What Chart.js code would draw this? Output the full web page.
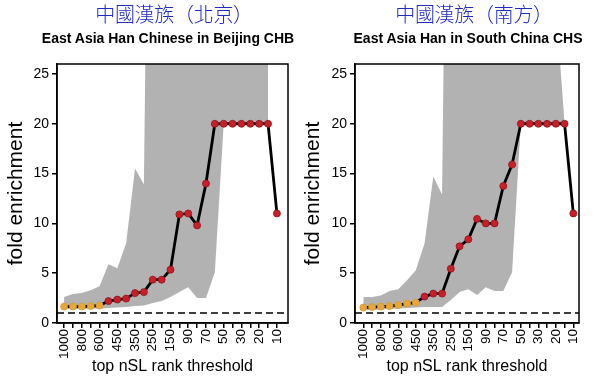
<!DOCTYPE html>
<html><head><meta charset="utf-8">
<script src="https://cdn.jsdelivr.net/npm/chart.js@4.4.1/dist/chart.umd.min.js"></script>
<style>
html,body{margin:0;padding:0;background:#fff;}
#wrap{position:relative;width:600px;height:383px;overflow:hidden;background:#fff;}
.cv{position:absolute;top:0;width:300px;height:383px;}
.t1{position:absolute;top:4px;font-family:"Noto Sans CJK TC","Noto Sans CJK SC",sans-serif;font-weight:300;font-size:20px;line-height:20px;color:#1f2bbf;letter-spacing:-0.3px;white-space:nowrap;transform:translateX(-50%);}
.t2{position:absolute;top:31px;font-family:"Liberation Sans",Arial,sans-serif;font-weight:bold;font-size:14px;line-height:14px;color:#000;white-space:nowrap;transform:translateX(-50%);}
</style></head><body>
<div id="wrap">
  <div class="cv" style="left:0"><canvas id="c1" width="300" height="383"></canvas></div>
  <div class="cv" style="left:300px"><canvas id="c2" width="300" height="383"></canvas></div>
  <div class="t1" style="left:174px">中國漢族（北京）</div>
  <div class="t2" style="left:168px">East Asia Han Chinese in Beijing CHB</div>
  <div class="t1" style="left:474px">中國漢族（南方）</div>
  <div class="t2" style="left:468px">East Asia Han in South China CHS</div>
</div>
<script>
// ---- data ----
const thresholds = ['1000','900','800','700','600','500','450','400','350','300','250','200','150','100','90','80','70','60','50','40','30','25','20','15','10'];
const yTicks = [0, 5, 10, 15, 20, 25];
const nullLevel = 1;

const chbFold  = [1.65,1.65,1.65,1.7,1.75, 2.2,2.35,2.45,3.0,3.1, 4.35,4.35,5.35,10.9,11.0, 9.8,14.0,20,20,20, 20,20,20,20,11];
const chbUpper = [2.6,2.9,3.0,3.3,3.7, 5.9,5.5,8.0,15.5,13.9, 90,90,90,90,90, 90,90,90,90,90, 90,90,90,90,null];
const chbLower = [1.4,1.4,1.4,1.45,1.45, 1.5,1.55,1.6,1.7,1.75, 2.0,2.2,2.6,3.1,3.6, 2.5,2.5,5.1,20,20, 20,20,20,20,null];
const chbOrangeCount = 5;

const chsFold  = [1.55,1.6,1.65,1.7,1.8, 1.95,2.05,2.65,2.95,2.95, 5.45,7.7,8.4,10.45,10.0, 10.0,13.75,15.9,20,20, 20,20,20,20,11];
const chsUpper = [2.6,2.6,2.75,3.2,3.4, 4.3,5.3,8.0,14.7,12.9, 90,90,90,90,90, 90,90,90,90,90, 90,90,32,20,null];
const chsLower = [1.3,1.3,1.35,1.4,1.45, 1.5,1.55,1.6,1.6,1.6, 2.3,3.1,3.4,2.8,3.6, 3.2,3.2,5.1,20,20, 20,20,20,20,null];
const chsOrangeCount = 7;

// ---- styling ----
const FONT = '"Liberation Sans", Arial, sans-serif';
const ORANGE = '#e8a838';
const RED = '#c8202a';
const GRAY = '#b2b2b2';

const toPts = arr => arr.map((v, i) => ({x: i, y: v}));

const framePlugin = {
  id: 'frame',
  beforeDatasetsDraw(chart) {
    const {ctx, chartArea: a, scales} = chart;
    const y = scales.y.getPixelForValue(nullLevel);
    ctx.save();
    ctx.strokeStyle = '#000';
    ctx.lineWidth = 1.5;
    ctx.setLineDash([7, 4]);
    ctx.beginPath();
    ctx.moveTo(a.left, y);
    ctx.lineTo(a.right, y);
    ctx.stroke();
    ctx.restore();
  },
  afterDatasetsDraw(chart) {
    const {ctx, chartArea: a} = chart;
    ctx.save();
    ctx.strokeStyle = '#000';
    ctx.lineWidth = 1.5;
    ctx.strokeRect(a.left, a.top, a.right - a.left, a.bottom - a.top);
    ctx.restore();
  }
};

function makeChart(id, fold, upper, lower, orangeCount, lay) {
  new Chart(document.getElementById(id), {
    type: 'line',
    data: {
      datasets: [
        {
          data: toPts(fold),
          borderColor: '#000',
          borderWidth: 2.8,
          tension: 0,
          pointRadius: 3.5,
          pointBorderWidth: 0.8,
          pointBackgroundColor: fold.map((_, i) => i < orangeCount ? ORANGE : RED),
          pointBorderColor: fold.map((_, i) => i < orangeCount ? '#d69a30' : '#8e1418'),
          fill: false,
          order: 0
        },
        {
          data: toPts(upper),
          borderWidth: 0,
          pointRadius: 0,
          backgroundColor: GRAY,
          fill: '+1',
          spanGaps: false,
          order: 5
        },
        {
          data: toPts(lower),
          borderWidth: 0,
          pointRadius: 0,
          fill: false,
          spanGaps: false,
          order: 6
        }
      ]
    },
    options: {
      responsive: false,
      animation: false,
      events: [],
      layout: {padding: {top: 64, left: 0, right: lay.padRight, bottom: 0}},
      plugins: {legend: {display: false}, tooltip: {enabled: false}},
      scales: {
        x: {
          type: 'linear',
          min: lay.xMin,
          max: lay.xMax,
          afterBuildTicks: s => { s.ticks = thresholds.map((_, i) => ({value: i})); },
          afterFit: s => { s.height = 60; },
          grid: {drawOnChartArea: false, color: '#000', lineWidth: 1.5, tickLength: 5},
          border: {display: true, color: '#000', width: 1.5},
          ticks: {
            autoSkip: false, minRotation: 90, maxRotation: 90, padding: 1,
            color: '#000', font: {family: FONT, size: 13.5},
            callback: v => (v % 2 === 0 ? thresholds[v] : '')
          },
          title: {display: true, text: 'top nSL rank threshold', color: '#000',
                  font: {family: FONT, size: 16}, padding: {top: 0, bottom: 7}}
        },
        y: {
          min: 0,
          max: 26,
          afterBuildTicks: s => { s.ticks = yTicks.map(v => ({value: v})); },
          afterFit: s => { s.width = lay.yWidth; },
          grid: {drawOnChartArea: false, color: '#000', lineWidth: 1.5, tickLength: 5},
          border: {display: true, color: '#000', width: 1.5},
          ticks: {padding: 3, color: '#000', font: {family: FONT, size: 14}},
          title: {display: true, text: 'fold enrichment', color: '#000',
                  font: {family: FONT, size: 21}, padding: {top: lay.yTitlePad, bottom: 0}}
        }
      }
    },
    plugins: [framePlugin]
  });
}

makeChart('c1', chbFold, chbUpper, chbLower, chbOrangeCount,
  {xMin: -0.8, xMax: 25.25, padRight: 12, yWidth: 57, yTitlePad: 3.4});
makeChart('c2', chsFold, chsUpper, chsLower, chsOrangeCount,
  {xMin: -0.95, xMax: 24.65, padRight: 21, yWidth: 55, yTitlePad: 1});
</script>
</body></html>
